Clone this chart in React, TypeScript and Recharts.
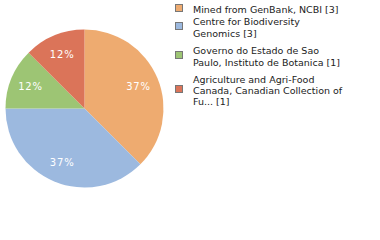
import * as React from 'react';
import { Cell, Pie, PieChart } from 'recharts';

const institutions = [
  'Mined from GenBank, NCBI',
  'Centre for Biodiversity Genomics',
  'Governo do Estado de Sao Paulo, Instituto de Botanica',
  'Agriculture and Agri-Food Canada, Canadian Collection of Fu...',
];
const recordCounts = [3, 3, 1, 1];
const sliceColors = ['#eeab70', '#9cb9df', '#9dc574', '#db7459'];

const data = institutions.map((name, i) => ({ name, value: recordCounts[i] }));
const total = recordCounts.reduce((a, b) => a + b, 0);

// legend rows sit at slightly uneven offsets in the original
const legendTops = [3.6, 16.2, 45.2, 73.6];

const RADIAN = Math.PI / 180;

function SliceLabel(props: any): React.JSX.Element {
  const { cx, cy, midAngle, outerRadius, value } = props;
  const r = outerRadius * 0.74;
  const x = cx + r * Math.cos(-midAngle * RADIAN);
  const y = cy + r * Math.sin(-midAngle * RADIAN);
  return (
    <text
      x={x}
      y={y}
      fill="#fff"
      fontSize={10}
      letterSpacing={0.8}
      fontFamily="DejaVu Sans"
      textAnchor="middle"
      dominantBaseline="central"
    >
      {Math.floor((value / total) * 100)}%
    </text>
  );
}

export default function App(): React.JSX.Element {
  return (
    <div style={{ position: 'absolute', left: 0, top: 0, width: 380, height: 240, background: '#fff' }}>
      <PieChart width={380} height={240} margin={{ top: 0, right: 0, bottom: 0, left: 0 }}>
        <Pie
          data={data}
          dataKey="value"
          cx={84.5}
          cy={108.5}
          outerRadius={79}
          startAngle={90}
          endAngle={-270}
          stroke="none"
          label={SliceLabel}
          labelLine={false}
          isAnimationActive={false}
        >
          {data.map((d, i) => (
            <Cell key={d.name} fill={sliceColors[i]} />
          ))}
        </Pie>
      </PieChart>
      {data.map((d, i) => (
        <div
          key={d.name}
          style={{
            position: 'absolute',
            left: 175,
            top: legendTops[i],
            display: 'flex',
            alignItems: 'center',
            fontFamily: 'DejaVu Sans',
            fontSize: 9.5,
            lineHeight: '11.4px',
            color: '#222',
          }}
        >
          <div
            style={{
              width: 6,
              height: 6,
              background: sliceColors[i],
              border: '1px solid #777',
              flex: 'none',
              marginRight: 10,
              marginTop: -3,
            }}
          />
          <div style={{ width: 155 }}>
            {d.name} [{d.value}]
          </div>
        </div>
      ))}
    </div>
  );
}
